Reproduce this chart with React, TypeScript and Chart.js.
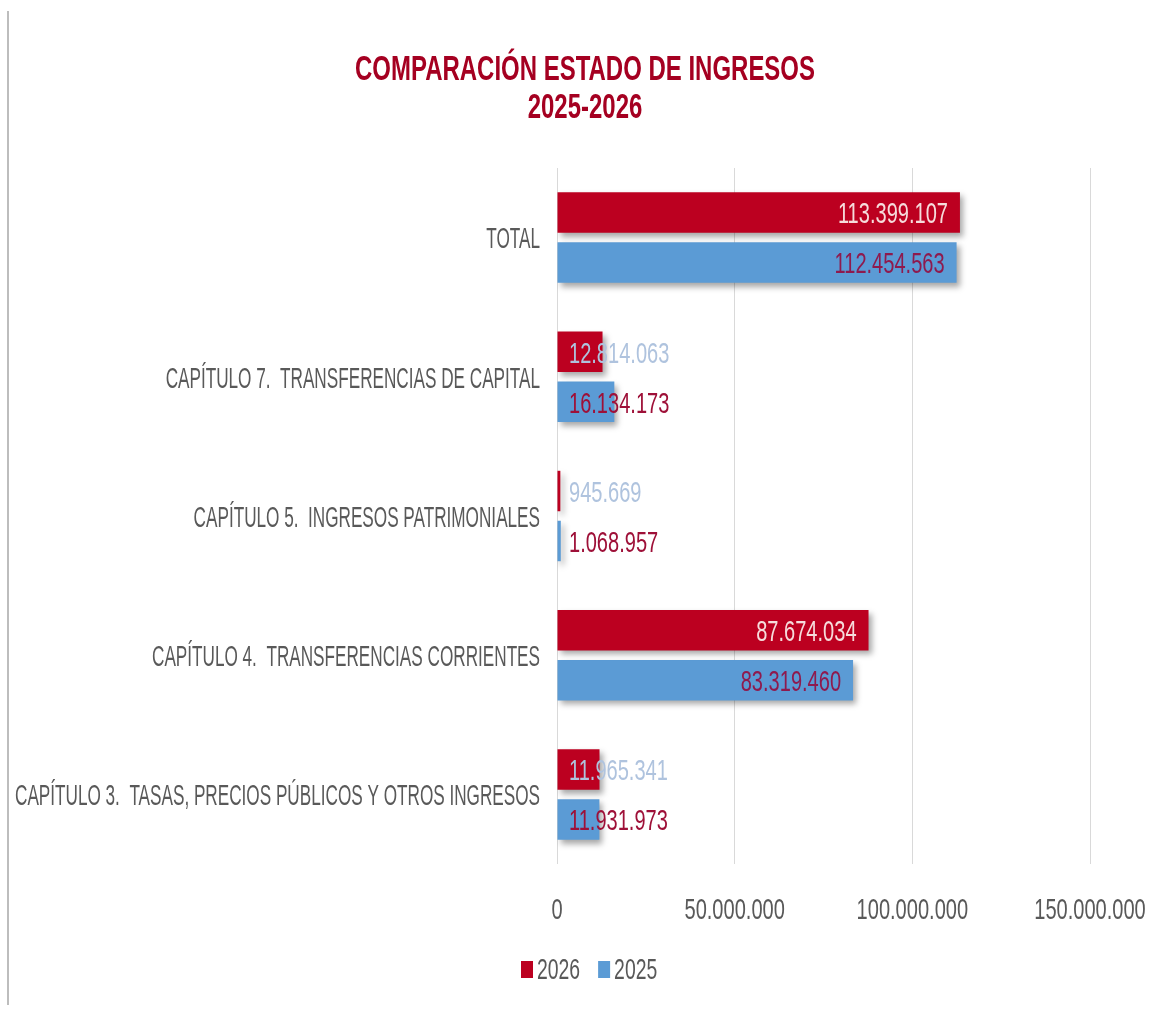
import React, { useEffect, useRef } from "react";
import { Chart, registerables } from "chart.js";

Chart.register(...registerables);

const categories = [
  "TOTAL",
  "CAPÍTULO 7.  TRANSFERENCIAS DE CAPITAL",
  "CAPÍTULO 5.  INGRESOS PATRIMONIALES",
  "CAPÍTULO 4.  TRANSFERENCIAS CORRIENTES",
  "CAPÍTULO 3.  TASAS, PRECIOS PÚBLICOS Y OTROS INGRESOS",
];
const seriesNames = ["2026", "2025"];
const values2026 = [113399107, 12814063, 945669, 87674034, 11965341];
const values2025 = [112454563, 16134173, 1068957, 83319460, 11931973];
const xTicks = [0, 50000000, 100000000, 150000000];
const titleLines = ["COMPARACIÓN ESTADO DE INGRESOS", "2025-2026"];

const RED = "#BC0020";
const BLUE = "#5B9BD5";
const GREY = "#595959";
const TITLE_COLOR = "#A50021";
const FAMILY = '"Liberation Sans", Arial, sans-serif';

function fmt(v: number): string {
  return String(Math.round(v)).replace(/\B(?=(\d{3})+(?!\d))/g, ".");
}

function squeeze(ctx: CanvasRenderingContext2D, font: string, ref: string, target: number) {
  ctx.save();
  ctx.font = font;
  const w = ctx.measureText(ref).width;
  ctx.restore();
  return target / w;
}

function drawText(
  ctx: CanvasRenderingContext2D,
  text: string,
  x: number,
  centerY: number,
  size: number,
  font: string,
  sx: number,
  align: CanvasTextAlign,
  color: string
) {
  ctx.save();
  ctx.font = font;
  ctx.fillStyle = color;
  ctx.textAlign = align;
  ctx.textBaseline = "alphabetic";
  ctx.translate(x, centerY + (size * 0.716) / 2);
  ctx.scale(sx, 1);
  ctx.fillText(text, 0, 0);
  ctx.restore();
}

function textWidth(ctx: CanvasRenderingContext2D, text: string, font: string, sx: number) {
  ctx.save();
  ctx.font = font;
  const w = ctx.measureText(text).width * sx;
  ctx.restore();
  return w;
}

const NUM_SIZE = 30;
const NUM_FONT = `${NUM_SIZE}px ${FAMILY}`;
const CAT_SIZE = 30;
const CAT_FONT = `${CAT_SIZE}px ${FAMILY}`;
const TITLE_SIZE = 35;
const TITLE_FONT = `bold ${TITLE_SIZE}px ${FAMILY}`;

const textPlugin = {
  id: "textPlugin",
  beforeDatasetsDraw(chart: any) {
    const ctx = chart.ctx;
    ctx.save();
    ctx.shadowColor = "rgba(0,0,0,0.35)";
    ctx.shadowBlur = 6;
    ctx.shadowOffsetX = 3;
    ctx.shadowOffsetY = 4;
  },
  afterDatasetsDraw(chart: any) {
    const ctx: CanvasRenderingContext2D = chart.ctx;
    ctx.restore();
    const numSx = squeeze(ctx, NUM_FONT, "113.399.107", 110);
    const xScale = chart.scales.x;
    const base = xScale.getPixelForValue(0);
    chart.data.datasets.forEach((ds: any, di: number) => {
      const meta = chart.getDatasetMeta(di);
      meta.data.forEach((bar: any, i: number) => {
        const v = ds.data[i];
        const label = fmt(v);
        const w = textWidth(ctx, label, NUM_FONT, numSx);
        const len = bar.x - base;
        if (len > w + 24) {
          drawText(ctx, label, bar.x - 12, bar.y, NUM_SIZE, NUM_FONT, numSx, "right",
            di === 0 ? "#F6DCDC" : "#8E1A4E");
        } else {
          drawText(ctx, label, base + 12, bar.y, NUM_SIZE, NUM_FONT, numSx, "left",
            di === 0 ? "#AFC3DE" : "#9E1038");
        }
      });
    });
  },
  afterDraw(chart: any) {
    const ctx: CanvasRenderingContext2D = chart.ctx;
    const numSx = squeeze(ctx, NUM_FONT, "113.399.107", 110);
    const catSx = squeeze(ctx, CAT_FONT, categories[4], 525);
    const titleSx = squeeze(ctx, TITLE_FONT, titleLines[0], 460);

    // left border line
    ctx.save();
    ctx.strokeStyle = "#BDBDBD";
    ctx.lineWidth = 2;
    ctx.beginPath();
    ctx.moveTo(8, 11);
    ctx.lineTo(8, 1005);
    ctx.stroke();
    ctx.restore();

    // title
    drawText(ctx, titleLines[0], 585, 67.5, TITLE_SIZE, TITLE_FONT, titleSx, "center", TITLE_COLOR);
    drawText(ctx, titleLines[1], 585, 105, TITLE_SIZE, TITLE_FONT, titleSx, "center", TITLE_COLOR);

    // category labels
    const yScale = chart.scales.y;
    categories.forEach((c, i) => {
      const y = yScale.getPixelForValue(i);
      drawText(ctx, c, 540, y, CAT_SIZE, CAT_FONT, catSx, "right", GREY);
    });

    // x tick labels
    const xScale = chart.scales.x;
    xTicks.forEach((t) => {
      const x = xScale.getPixelForValue(t);
      drawText(ctx, fmt(t), x, 908, NUM_SIZE, NUM_FONT, numSx, "center", GREY);
    });

    // legend
    let x = 521;
    const cy = 969;
    const colors = [RED, BLUE];
    seriesNames.forEach((name, i) => {
      ctx.save();
      ctx.fillStyle = colors[i];
      ctx.fillRect(x, cy - 8, 12, 17);
      ctx.restore();
      x += 16;
      drawText(ctx, name, x, cy, 29, `29px ${FAMILY}`, numSx, "left", GREY);
      x += textWidth(ctx, name, `29px ${FAMILY}`, numSx) + 18;
    });
  },
};

export default function App() {
  const ref = useRef<HTMLCanvasElement | null>(null);
  useEffect(() => {
    if (!ref.current) return;
    const chart = new Chart(ref.current, {
      type: "bar",
      data: {
        labels: categories,
        datasets: [
          {
            label: seriesNames[0],
            data: values2026,
            backgroundColor: RED,
            borderWidth: 0,
            barPercentage: 0.81,
            categoryPercentage: 0.718,
          },
          {
            label: seriesNames[1],
            data: values2025,
            backgroundColor: BLUE,
            borderWidth: 0,
            barPercentage: 0.81,
            categoryPercentage: 0.718,
          },
        ],
      },
      options: {
        indexAxis: "y",
        responsive: false,
        animation: false,
        devicePixelRatio: 1,
        layout: { padding: { left: 557, right: 65, top: 168, bottom: 153 } },
        plugins: {
          legend: { display: false },
          title: { display: false },
          tooltip: { enabled: false },
        },
        scales: {
          x: {
            min: 0,
            max: 150000000,
            ticks: { display: false, stepSize: 50000000 },
            grid: { color: "#D9D9D9", lineWidth: 1, drawTicks: false },
            border: { display: false },
            afterBuildTicks: (s: any) => {
              s.ticks = xTicks.map((v) => ({ value: v }));
            },
            afterFit: (s: any) => {
              s.height = 0;
            },
          },
          y: {
            display: false,
          },
        },
      },
      plugins: [textPlugin],
    } as any);
    return () => chart.destroy();
  }, []);
  return (
    <div style={{ position: "absolute", left: 0, top: 0, width: 1155, height: 1017, background: "#fff" }}>
      <canvas ref={ref} width={1155} height={1017} style={{ width: 1155, height: 1017, display: "block" }} />
    </div>
  );
}
